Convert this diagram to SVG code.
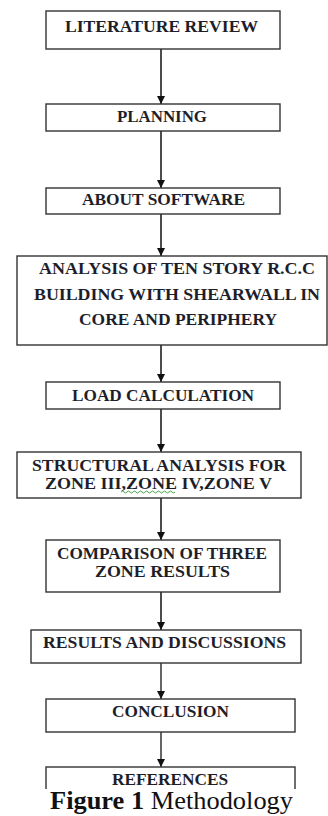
<svg xmlns="http://www.w3.org/2000/svg" width="328" height="816" viewBox="0 0 328 816">
<style>
.box{fill:#fff;stroke:#333;stroke-width:1.4}
.t{font-family:'Times New Roman','Liberation Serif',Tinos,serif;font-weight:bold;font-size:16px;fill:#1e1e2a}
.cap{font-family:'Times New Roman','Liberation Serif',Tinos,serif;font-size:25px;fill:#111}
.c{stroke:#111;stroke-width:1.5;fill:none;marker-end:url(#ah)}
.g{stroke:#666;stroke-width:2;fill:none;marker-end:url(#ah)}
</style>
<defs>
<marker id="ah" markerUnits="userSpaceOnUse" markerWidth="9" markerHeight="8" refX="8" refY="4" orient="auto">
<path d="M0,0 L8,4 L0,8 Z" fill="#111"/>
</marker>
</defs>
<g id="connectors">
<line class="c" x1="161" y1="49" x2="161" y2="104"/>
<line class="c" x1="161" y1="131" x2="161" y2="188"/>
<line class="c" x1="161" y1="214" x2="161" y2="256"/>
<line class="c" x1="161" y1="345" x2="161" y2="382"/>
<line class="c" x1="161" y1="409" x2="161" y2="452"/>
<line class="c" x1="161" y1="498" x2="161" y2="540"/>
<line class="c" x1="161" y1="592" x2="161" y2="630"/>
<line class="g" x1="161" y1="663" x2="161" y2="699"/>
<line class="g" x1="161" y1="732" x2="161" y2="767"/>
</g>
<g id="n1"><rect class="box" x="46" y="11" width="234" height="38"/><text class="t" x="65" y="32" textLength="193" lengthAdjust="spacingAndGlyphs">LITERATURE REVIEW</text></g>
<g id="n2"><rect class="box" x="46" y="104" width="234" height="27"/><text class="t" x="117" y="122" textLength="90" lengthAdjust="spacingAndGlyphs">PLANNING</text></g>
<g id="n3"><rect class="box" x="46" y="188" width="234" height="26"/><text class="t" x="82" y="205" textLength="163" lengthAdjust="spacingAndGlyphs">ABOUT SOFTWARE</text></g>
<g id="n4"><rect class="box" x="17" y="256" width="310" height="89"/>
<text class="t" x="39" y="274" textLength="276" lengthAdjust="spacingAndGlyphs">ANALYSIS OF TEN STORY R.C.C</text>
<text class="t" x="34" y="300" textLength="286" lengthAdjust="spacingAndGlyphs">BUILDING WITH SHEARWALL IN</text>
<text class="t" x="79" y="325" textLength="198" lengthAdjust="spacingAndGlyphs">CORE AND PERIPHERY</text></g>
<g id="n5"><rect class="box" x="46" y="382" width="234" height="27"/><text class="t" x="72" y="400.5" textLength="182" lengthAdjust="spacingAndGlyphs">LOAD CALCULATION</text></g>
<g id="n6"><rect class="box" x="17" y="452" width="284" height="46"/>
<text class="t" x="32" y="471" textLength="254" lengthAdjust="spacingAndGlyphs">STRUCTURAL ANALYSIS FOR</text>
<text class="t" x="45" y="489" textLength="227" lengthAdjust="spacingAndGlyphs">ZONE III,ZONE IV,ZONE V</text>
<path d="M121,492 q1.5,-2 3,0 t3,0 t3,0 t3,0 t3,0 t3,0 t3,0 t3,0 t3,0 t3,0 t3,0 t3,0 t3,0 t3,0 t3,0 t3,0 t3,0 t3,0" fill="none" stroke="#3a9a3a" stroke-width="0.9"/></g>
<g id="n7"><rect class="box" x="46" y="540" width="234" height="52"/>
<text class="t" x="57" y="559" textLength="210" lengthAdjust="spacingAndGlyphs">COMPARISON OF THREE</text>
<text class="t" x="95" y="577" textLength="135" lengthAdjust="spacingAndGlyphs">ZONE RESULTS</text></g>
<g id="n8"><rect class="box" x="31" y="630" width="270" height="33"/><text class="t" x="43" y="648" textLength="243" lengthAdjust="spacingAndGlyphs">RESULTS AND DISCUSSIONS</text></g>
<g id="n9"><rect class="box" x="46" y="699" width="249" height="33"/><text class="t" x="112" y="717" textLength="117" lengthAdjust="spacingAndGlyphs">CONCLUSION</text></g>
<g id="n10"><rect class="box" x="46" y="767" width="249" height="40"/><text class="t" x="112" y="785" textLength="116" lengthAdjust="spacingAndGlyphs">REFERENCES</text></g>
<rect x="0" y="789" width="328" height="27" fill="#fff"/>
<text class="cap" x="50" y="809" textLength="243" lengthAdjust="spacingAndGlyphs"><tspan font-weight="bold">Figure 1</tspan> Methodology</text>
</svg>
